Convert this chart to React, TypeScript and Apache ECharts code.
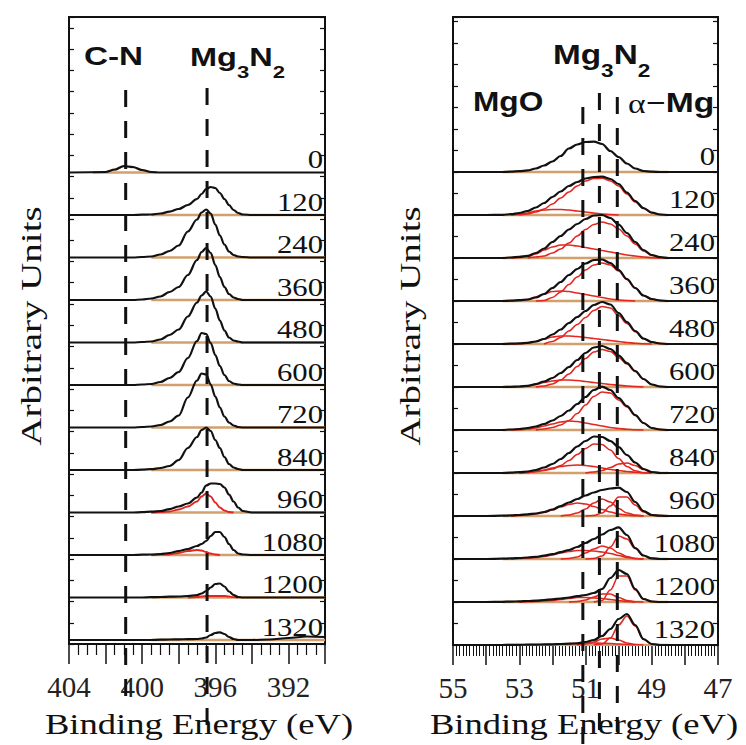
import React, { useEffect, useRef } from "react";
import * as echarts from "echarts";

// sputtering times (labels of each stacked spectrum, top to bottom)
const timeLabels = ["0", "120", "240", "360", "480", "600", "720", "840", "960", "1080", "1200", "1320"];

// ---------- N 1s panel (left) ----------
const energyN1s = [404, 402, 401.5, 401, 400.5, 400, 399.5, 399, 398.5, 398, 397.5, 397, 396.75, 396.5, 396.25, 396, 395.75, 395.5, 395.25, 395, 394.75, 394.5, 394, 393, 392, 391, 390];
const envelopeN1s = [
  [0, 0.5, 3, 6.5, 5.5, 2.5, 0.5, 0, 0, 0, 0, 0, 0, 0, 0, 0, 0, 0, 0, 0, 0, 0, 0, 0, 0, 0, 0],
  [0, 0, 0, 0, 0, 0.3, 0.5, 1.5, 3.3, 6, 10, 16, 21, 26, 28, 27, 22, 16, 10, 5, 2, 0.5, 0, 0, 0, 0, 0],
  [0, 0, 0, 0, 0, 0.5, 1, 3, 6.5, 12, 26, 38, 45, 48, 44, 33, 22, 13, 6, 2.5, 1, 0.5, 0, 0, 0, 0, 0],
  [0, 0, 0, 0, 0, 0.5, 1.5, 3.5, 8, 13, 25, 40, 48, 52, 47, 35, 23, 13, 6, 2.5, 1, 0, 0, 0, 0, 0, 0],
  [0, 0, 0, 0, 0, 0.5, 1, 3, 7.5, 13, 26, 40, 47, 51, 46, 34, 22, 12, 5, 2, 1, 0, 0, 0, 0, 0, 0],
  [0, 0, 0, 0, 0, 0.5, 1, 3, 7, 13, 27, 44, 52, 51, 42, 30, 19, 10, 4, 1.5, 0.5, 0, 0, 0, 0, 0, 0],
  [0, 0, 0, 0, 0, 0.5, 1, 2.5, 6, 12, 30, 47, 54, 53, 43, 31, 20, 11, 5, 2, 0.5, 0, 0, 0, 0, 0, 0],
  [0, 0, 0, 0, 0, 0.3, 0.8, 2, 4, 10, 22, 33, 40, 42.5, 39, 30, 22, 13, 6, 2.5, 1, 0, 0, 0, 0, 0, 0],
  [0, 0, 0, 0, 0, 0.3, 0.8, 1.5, 3.3, 6, 9, 15, 20, 27, 29, 29, 28.5, 25, 18, 11, 5, 1.5, 0, 0, 0, 0, 0],
  [0, 0, 0, 0, 0, 0.3, 0.5, 1, 2, 4, 6, 9, 11, 14, 19, 23, 23, 18, 11, 5, 1.5, 0.5, 0, 0, 0, 0, 0],
  [0, 0, 0, 0, 0, 0, 0.3, 0.5, 0.8, 1, 1.5, 2.5, 4, 6.5, 10, 13.5, 14, 11, 6, 2.5, 0.5, 0, 0, 0, 0, 0, 0],
  [0, 0, 0, 0, 0, 0, 0, 0.3, 0.5, 0.7, 0.8, 1, 1.5, 2.5, 5, 7, 7.7, 6, 3, 1, 0, 0, 0, 0.5, 2, 3.5, 3],
];
const redN1s = [
  null, null, null, null, null, null, null, null,
  [0, 0, 0, 0, 0, 0, 0, 0.3, 1, 3, 6, 11, 16, 19, 16, 10, 5, 2, 0.5, 0, 0, 0, 0, 0, 0, 0, 0],
  [0, 0, 0, 0, 0, 0, 0, 0.3, 0.5, 2, 4, 5, 4.5, 3, 1.5, 0.5, 0, 0, 0, 0, 0, 0, 0, 0, 0, 0, 0],
  [0, 0, 0, 0, 0, 0, 0, 0, 0, 0, 0, 0.5, 1, 1.5, 1.5, 1.5, 1.5, 1.5, 1, 0.3, 0, 0, 0, 0, 0, 0, 0],
  null,
];
const cnComponent0 = [0, 0, 2.5, 6, 5, 2, 0, 0, 0, 0, 0, 0, 0, 0, 0, 0, 0, 0, 0, 0, 0, 0, 0, 0, 0, 0, 0];
const backgroundSpanN1s = [399.5, 390];
const backgroundSpanN1s0 = [402.7, 399.2];
const refLinesN1s = [400.9, 396.45];

// ---------- Mg 2p panel (right) ----------
const energyMg2p = [55, 54, 53.5, 53.25, 53, 52.75, 52.5, 52.25, 52, 51.75, 51.5, 51.25, 51, 50.75, 50.5, 50.25, 50, 49.75, 49.5, 49.25, 49, 48.75, 48.5, 48, 47];
const envelopeMg2p = [
  [0, 0, 0, 0.3, 0.8, 1.6, 3.5, 6.5, 10.5, 16, 23.5, 27.5, 30, 30.3, 28, 21, 15, 8.5, 3.5, 1, 0.3, 0, 0, 0, 0],
  [0, 0, 0.2, 0.8, 2, 4, 7.5, 12, 18, 23.5, 29, 33, 36.5, 38, 38.3, 36, 31, 22.5, 14, 7, 2.5, 0.5, 0, 0, 0],
  [0, 0, 0, 0.5, 1.2, 2.2, 5, 9.5, 16, 22, 28.5, 34, 39, 42.5, 43, 40, 33.5, 25, 16, 8, 3, 0.8, 0, 0, 0],
  [0, 0, 0, 0.3, 0.8, 1.5, 3.5, 7, 13, 19, 26, 32, 37.5, 41, 41.5, 38, 31, 22, 13, 5.5, 2, 0.5, 0, 0, 0],
  [0, 0, 0, 0.3, 0.6, 1.2, 2.5, 5, 9.5, 14.5, 21, 27, 33, 39, 42, 39.5, 31, 22, 13, 5.5, 2, 0.5, 0, 0, 0],
  [0, 0, 0, 0.2, 0.5, 1.2, 2.8, 5.5, 9, 14, 20, 27, 34, 39.5, 41, 38, 31.5, 24, 16, 8, 2.5, 0.5, 0, 0, 0],
  [0, 0, 0, 0.5, 1, 2, 3.5, 6, 9.5, 14, 19.5, 26, 33, 40, 43.4, 40, 32, 24, 15, 7, 2, 0.5, 0, 0, 0],
  [0, 0, 0, 0.3, 0.8, 1.5, 3, 5.5, 9, 14, 20, 26.5, 32, 36.5, 36, 32, 26, 18, 10.5, 4, 1, 0, 0, 0, 0],
  [0, 0, 0.3, 0.6, 1, 1.6, 2.5, 4, 6.5, 10, 13.5, 17, 20.5, 23.5, 26, 27.5, 28.3, 24, 14, 5, 1, 0.3, 0, 0, 0],
  [0, 0, 0.3, 0.6, 1, 1.5, 2.2, 3.4, 4.8, 6.8, 9, 12, 16, 20, 24.5, 29, 31.7, 24, 11, 3.5, 0.7, 0, 0, 0, 0],
  [0, 0, 0.2, 0.4, 0.6, 1, 1.4, 2, 2.7, 3.5, 4.5, 5.8, 7, 9, 13, 24, 32, 28, 13, 3, 0.5, 0, 0, 0, 0],
  [0, 0, 0, 0.1, 0.2, 0.3, 0.4, 0.55, 0.7, 1, 1.3, 1.7, 3, 5, 9, 16, 26, 31, 20, 6, 1, 0, 0, 0, 0],
];
const mgoMg2p = [
  null,
  [0, 0, 0, 0, 0.5, 2, 4, 5, 5.5, 5.5, 5, 4, 3, 2, 1, 0.5, 0, 0, 0, 0, 0, 0, 0, 0, 0],
  [0, 0, 0, 0, 0.5, 1.5, 4, 8, 11, 13, 13, 12, 10.5, 9, 7.5, 6, 4.5, 3, 2, 1, 0.3, 0, 0, 0, 0],
  [0, 0, 0, 0, 0.5, 1.5, 4, 7, 9.5, 10, 9.5, 8, 6.5, 5, 3.5, 2, 1, 0.5, 0, 0, 0, 0, 0, 0, 0],
  [0, 0, 0, 0, 0.3, 1, 2.5, 5, 7, 8, 8, 7.5, 6.5, 5.5, 4.5, 3.5, 2.5, 1.5, 0.7, 0.2, 0, 0, 0, 0, 0],
  [0, 0, 0, 0, 0.3, 1, 2.5, 4.5, 6, 7, 7, 6.5, 5.5, 4.5, 3.5, 2.5, 1.8, 1, 0.5, 0, 0, 0, 0, 0, 0],
  [0, 0, 0, 0, 0.3, 1, 2, 4, 6, 8, 9, 8.5, 7, 5.5, 4, 2.5, 1.5, 0.7, 0.3, 0, 0, 0, 0, 0, 0],
  [0, 0, 0, 0, 0, 0.5, 1.5, 3, 5, 6.5, 7.5, 8, 7.5, 6.5, 5, 3.5, 2.5, 1.5, 0.7, 0.2, 0, 0, 0, 0, 0],
  [0, 0, 0, 0, 0.5, 1.2, 2, 3.5, 6, 9, 11.5, 13, 12, 9.5, 6.5, 4, 2, 1, 0.3, 0, 0, 0, 0, 0, 0],
  [0, 0, 0, 0, 0.5, 1, 1.5, 2.5, 4, 6, 7.5, 8.5, 8.5, 8, 7, 5.5, 3.5, 1.5, 0.5, 0, 0, 0, 0, 0, 0],
  [0, 0, 0, 0, 0, 0.2, 0.5, 1, 1.5, 2.5, 3.5, 4.5, 4.5, 4, 3.5, 2.5, 1.5, 0.5, 0, 0, 0, 0, 0, 0, 0],
  [0, 0, 0, 0, 0, 0, 0, 0.2, 0.5, 1, 1.2, 1.5, 1.8, 2, 1.8, 1.5, 1, 0.5, 0, 0, 0, 0, 0, 0, 0],
];
const mg3n2Mg2p = [
  null,
  [0, 0, 0, 0, 0, 1, 3, 6, 11, 17, 23, 29, 34, 36.5, 36.7, 34, 29, 21, 13, 6.5, 2, 0.5, 0, 0, 0],
  [0, 0, 0, 0, 0, 0, 1, 2, 5, 9, 15, 22, 28.5, 33.5, 36, 34, 29, 22, 14, 7, 2.5, 0.5, 0, 0, 0],
  [0, 0, 0, 0, 0, 0, 0, 0.5, 3.5, 9, 16.5, 24, 31, 36, 38, 36, 30, 21.5, 13, 5.5, 2, 0.5, 0, 0, 0],
  [0, 0, 0, 0, 0, 0, 0, 0, 2.5, 6.5, 13, 19.5, 26.5, 33.5, 37.5, 36, 28.5, 20.5, 12.3, 5.3, 2, 0.5, 0, 0, 0],
  [0, 0, 0, 0, 0, 0, 0, 1, 3, 7, 13, 20.5, 28.5, 35, 37.5, 35.5, 29.5, 23, 15.5, 8, 2.5, 0.5, 0, 0, 0],
  [0, 0, 0, 0, 0, 0, 0, 1, 2.5, 5, 9.5, 16.5, 25, 33.5, 38, 37, 30, 23, 14.5, 7, 2, 0.5, 0, 0, 0],
  [0, 0, 0, 0, 0, 0.5, 1.5, 2.5, 4, 7.5, 12.5, 18.5, 24.5, 29, 28.5, 23, 14.5, 6.5, 2.3, 0.3, 0, 0, 0, 0, 0],
  [0, 0, 0, 0, 0, 0, 0, 0, 0, 0, 1, 3, 7, 13, 17, 14, 7.5, 3, 1, 0, 0, 0, 0, 0, 0],
  [0, 0, 0, 0, 0, 0, 0, 0, 0, 0, 0.5, 2, 6, 10, 13, 11, 6, 2.5, 0.5, 0, 0, 0, 0, 0, 0],
  [0, 0, 0, 0, 0, 0, 0, 0, 0, 0, 0, 0.5, 2, 5, 8, 8, 4.5, 1.5, 0.3, 0, 0, 0, 0, 0, 0],
  [0, 0, 0, 0, 0, 0, 0, 0, 0, 0, 0, 0, 1, 3, 6, 7, 5, 2, 0.5, 0, 0, 0, 0, 0, 0],
];
const alphaMgMg2p = [
  null, null, null, null, null, null, null,
  [0, 0, 0, 0, 0, 0, 0, 0, 0, 0, 0, 0, 0, 1, 2.5, 5.5, 9, 10, 7.5, 3.5, 1, 0.2, 0, 0, 0],
  [0, 0, 0, 0, 0, 0, 0, 0, 0, 0, 0, 0, 0, 0.5, 3, 10, 19, 19, 11, 4, 1, 0.3, 0, 0, 0],
  [0, 0, 0, 0, 0, 0, 0, 0, 0, 0, 0, 0, 0, 0.5, 3, 12, 23, 20, 10.5, 3.5, 0.7, 0, 0, 0, 0],
  [0, 0, 0, 0, 0, 0, 0, 0, 0, 0, 0, 0, 0, 0, 1.5, 12, 26, 26, 12, 3, 0.5, 0, 0, 0, 0],
  [0, 0, 0, 0, 0, 0, 0, 0, 0, 0, 0, 0, 0, 0, 1, 7, 20, 29, 19, 5.5, 1, 0, 0, 0, 0],
];
const backgroundSpanMg2p = [53.5, 48.5];
const refLinesMg2p = [51.08, 50.58, 50.04];

// ---------- styling ----------
const BLACK = "#111";
const RED = "#e3261f";
const TAN = "#d2a06c";
const SERIF = "Liberation Serif";
const SANS = "Liberation Sans";

export default function App() {
  const ref = useRef<HTMLDivElement>(null);

  useEffect(() => {
    if (!ref.current) return;
    const chart = echarts.init(ref.current, null, { renderer: "svg" });

    const STEP_L = 42.5;
    const BASE_L = 4;
    const STEP_R = 43;
    const BASE_R = 0;
    const offL = (k: number) => BASE_L + STEP_L * (11 - k);
    const offR = (k: number) => BASE_R + STEP_R * (11 - k);

    const trim = (xs: number[], ys: number[]) => {
      let a = ys.findIndex((v) => v > 0);
      let b = ys.length - 1;
      while (b >= 0 && !(ys[b] > 0)) b--;
      a = Math.max(0, a - 1);
      b = Math.min(ys.length - 1, b + 1);
      return { xs: xs.slice(a, b + 1), ys: ys.slice(a, b + 1) };
    };

    const line = (
      name: string,
      xs: number[],
      ys: number[],
      off: number,
      color: string,
      width: number,
      z: number,
      panel: number
    ) => ({
      type: "line",
      name,
      xAxisIndex: panel,
      yAxisIndex: panel * 2,
      data: xs.map((x, i) => [x, off + ys[i]]),
      smooth: 0.35,
      smoothMonotone: "x",
      showSymbol: false,
      symbol: "none",
      lineStyle: { color, width },
      z,
      silent: true,
    });

    const series: any[] = [];
    timeLabels.forEach((lab, k) => {
      const off = offL(k);
      const span = k === 0 ? backgroundSpanN1s0 : backgroundSpanN1s;
      series.push(line("bgN" + lab, span, [0, 0], off, TAN, 2.6, 2, 0));
      if (k === 0) {
        const t = trim(energyN1s, cnComponent0);
        series.push(line("cn" + lab, t.xs, t.ys, off, "#d98a4a", 1.6, 3, 0));
      }
      const r = redN1s[k];
      if (r) {
        const t = trim(energyN1s, r);
        series.push(line("redN" + lab, t.xs, t.ys, off, RED, 1.8, 3, 0));
      }
      series.push(line("envN" + lab, energyN1s, envelopeN1s[k], off, BLACK, 2.2, 5, 0));
    });
    timeLabels.forEach((lab, k) => {
      const off = offR(k);
      series.push(line("bgM" + lab, backgroundSpanMg2p, [0, 0], off, TAN, 2.6, 2, 1));
      [mgoMg2p[k], mg3n2Mg2p[k], alphaMgMg2p[k]].forEach((c, j) => {
        if (!c) return;
        const t = trim(energyMg2p, c);
        series.push(line("comp" + j + "M" + lab, t.xs, t.ys, off, RED, 1.6, 3, 1));
      });
      series.push(line("envM" + lab, energyMg2p, envelopeMg2p[k], off, BLACK, 2.2, 5, 1));
    });

    const xAxisBase = {
      type: "value",
      inverse: true,
      position: "bottom",
      axisLine: { show: true, onZero: false, lineStyle: { color: BLACK, width: 2 } },
      axisTick: { show: true, inside: false, length: 20, lineStyle: { color: BLACK, width: 1.5 } },
      splitLine: { show: false },
      minorSplitLine: { show: false },
    };
    const labelBase = {
      show: true,
      margin: 28,
      color: "#222",
      fontFamily: SERIF,
      fontSize: 29,
      showMinLabel: true,
      showMaxLabel: true,
      hideOverlap: false,
    };
    const yAxisBase = (grid: number, pos: string, max: number, interval: number) => ({
      type: "value",
      gridIndex: grid,
      position: pos,
      min: 0,
      max,
      interval,
      axisLine: { show: false },
      axisTick: { show: true, inside: true, length: 5, lineStyle: { color: BLACK, width: 1.2 } },
      axisLabel: { show: false },
      splitLine: { show: false },
    });

    const option: any = {
      animation: false,
      backgroundColor: "#fff",
      grid: [
        { left: 69, top: 17, width: 256, height: 627, show: true, borderColor: BLACK, borderWidth: 2, containLabel: false },
        { left: 453, top: 17, width: 265, height: 628, show: true, borderColor: BLACK, borderWidth: 2, containLabel: false },
      ],
      xAxis: [
        {
          ...xAxisBase,
          gridIndex: 0,
          min: 390,
          max: 404,
          interval: 2,
          minorTick: { show: true, splitNumber: 4, length: 11, lineStyle: { color: BLACK, width: 1.2 } },
          axisLabel: { ...labelBase, formatter: (v: number) => (Math.round(v) % 4 === 0 ? String(v) : "") },
        },
        {
          ...xAxisBase,
          gridIndex: 1,
          min: 47,
          max: 55,
          interval: 1,
          minorTick: { show: true, splitNumber: 10, length: 11, lineStyle: { color: BLACK, width: 1 } },
          axisLabel: { ...labelBase, formatter: (v: number) => (Math.round(v) % 2 !== 0 ? String(v) : "") },
        },
      ],
      yAxis: [
        yAxisBase(0, "left", 627, 21.25),
        yAxisBase(0, "right", 627, 21.25),
        yAxisBase(1, "left", 628, 21.5),
        yAxisBase(1, "right", 628, 21.5),
      ],
      series,
    };
    chart.setOption(option);

    const px = (panel: number, v: number) => chart.convertToPixel({ xAxisIndex: panel }, v) as number;
    const py = (panel: number, v: number) => chart.convertToPixel({ yAxisIndex: panel * 2 }, v) as number;

    const txt = (
      text: string,
      x: number,
      y: number,
      size: number,
      family: string,
      weight: string,
      align: string,
      extra: any = {}
    ) => ({
      type: "text",
      x,
      y,
      silent: true,
      z: 60,
      ...extra,
      style: {
        text,
        fontSize: size,
        fontFamily: family,
        fontWeight: weight,
        fill: BLACK,
        align,
        verticalAlign: "middle",
        textAlign: align,
        textVerticalAlign: "middle",
      },
    });
    const dashed = (x: number, y1: number, y2: number) => ({
      type: "line",
      silent: true,
      z: 70,
      shape: { x1: x, y1, x2: x, y2 },
      style: { stroke: BLACK, lineWidth: 3, lineDash: [17, 14] },
    });

    const graphic: any[] = [];
    timeLabels.forEach((lab, k) => {
      graphic.push(txt(lab, px(0, 390) - 2, py(0, offL(k)) - 13, 26, SERIF, "normal", "right", { scaleX: 1.18 }));
      graphic.push(txt(lab, px(1, 47) - 3, py(1, offR(k)) - 16, 26, SERIF, "normal", "right", { scaleX: 1.18 }));
    });
    graphic.push(dashed(px(0, refLinesN1s[0]), 90, 700));
    graphic.push(dashed(px(0, refLinesN1s[1]), 88, 732));
    graphic.push(dashed(px(1, refLinesMg2p[0]), 107, 745));
    graphic.push(dashed(px(1, refLinesMg2p[1]), 93, 732));
    graphic.push(dashed(px(1, refLinesMg2p[2]), 97, 732));
    graphic.push(txt("Binding Energy (eV)", 199, 724, 30, SERIF, "normal", "center", { scaleX: 1.22 }));
    graphic.push(txt("Binding Energy (eV)", 584, 724, 30, SERIF, "normal", "center", { scaleX: 1.22 }));
    graphic.push(txt("Arbitrary Units", 31, 326, 30, SERIF, "normal", "center", { rotation: Math.PI / 2, scaleX: 1.3 }));
    graphic.push(txt("Arbitrary Units", 410, 326, 30, SERIF, "normal", "center", { rotation: Math.PI / 2, scaleX: 1.3 }));
    graphic.push(txt("C-N", 113.5, 56.5, 25, SANS, "bold", "center", { scaleX: 1.33 }));
    const mg3n2 = (x: number, y: number, fs: number, sub: number, subDy: number, sx: number) => ({
      type: "group",
      x,
      y,
      scaleX: sx,
      silent: true,
      children: [
        txt("Mg", 0, 0, fs, SANS, "bold", "left"),
        txt("3", fs * 1.444, subDy, sub, SANS, "bold", "left"),
        txt("N", fs * 1.444 + sub * 0.556, 0, fs, SANS, "bold", "left"),
        txt("2", fs * 2.166 + sub * 0.556, subDy, sub, SANS, "bold", "left"),
      ],
    });
    graphic.push(mg3n2(190, 57, 25, 17, 14.6, 1.3));
    graphic.push(mg3n2(553, 54.3, 28, 19, 15.4, 1.19));
    graphic.push(txt("MgO", 473, 101.3, 28, SANS, "bold", "left", { scaleX: 1.13 }));
    graphic.push({
      type: "group",
      x: 628,
      y: 102,
      scaleX: 1.2,
      silent: true,
      children: [
        txt("α", 0, 1, 28, SERIF, "normal", "left"),
        txt("−", 15, 0, 28, SANS, "normal", "left"),
        txt("Mg", 31.5, 0, 28, SANS, "bold", "left"),
      ],
    });

    chart.setOption({ graphic });

    return () => chart.dispose();
  }, []);

  return <div ref={ref} style={{ position: "absolute", left: 0, top: 0, width: 746, height: 745 }} />;
}
